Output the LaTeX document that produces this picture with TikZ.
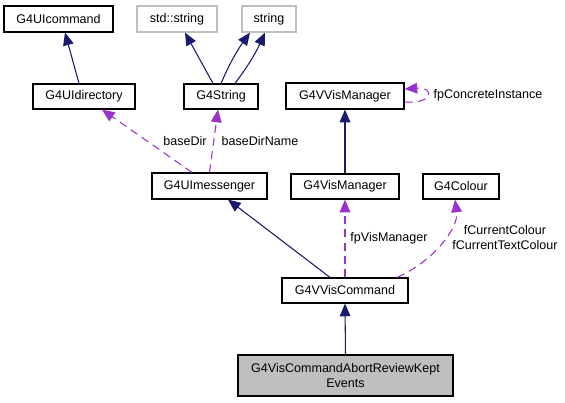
\documentclass[tikz,border=0pt]{standalone}
\usepackage{fontspec}
\setmainfont{Liberation Sans}
\usetikzlibrary{arrows.meta,calc}
\definecolor{edgeblue}{HTML}{191970}
\definecolor{edgepurple}{HTML}{9A32CD}
\definecolor{boxgray}{HTML}{BFBFBF}

\begin{document}
\begin{tikzpicture}[x=.75pt,y=-.75pt,
  cls/.style={draw=black,line width=.9pt,inner sep=0pt,font=\fontsize{9.4}{11}\selectfont},
  ext/.style={cls,draw=boxgray},
  size/.style 2 args={minimum width=#1,minimum height=#2},
  inh/.style={edgeblue,line width=.8pt,-{Triangle[length=9.5pt,width=8pt]}},
  use/.style={edgepurple,line width=.8pt,dash pattern=on 6pt off 4pt,-{Triangle[length=9.5pt,width=8pt]}},
  lbl/.style={font=\fontsize{9.4}{11}\selectfont,inner sep=0pt,align=center}]
\useasboundingbox (0,0) rectangle (565,403);
% classes
\node[cls,size={81.75pt}{19.5pt}] (cmd) at (58.5,19) {G4UIcommand};
\node[ext,size={60pt}{19.5pt}] (stds) at (177,19) {std::string};
\node[ext,size={40.5pt}{19.5pt}] (str) at (269,19) {string};
\node[cls,size={76.5pt}{18.75pt}] (dir) at (84,96.5) {G4UIdirectory};
\node[cls,size={55.5pt}{18.75pt}] (g4s) at (221,96.5) {G4String};
\node[cls,size={88.5pt}{19.5pt}] (vvm) at (345,96) {G4VVisManager};
\node[cls,size={86.25pt}{19.5pt}] (msg) at (209.5,186) {G4UImessenger};
\node[cls,size={81pt}{18.75pt}] (vm) at (345,186.5) {G4VisManager};
\node[cls,size={57pt}{18.75pt}] (col) at (461,186.5) {G4Colour};
\node[cls,size={94.5pt}{18.75pt}] (vvc) at (345,290.5) {G4VVisCommand};
\node[cls,fill=boxgray,size={161.25pt}{30.75pt},align=center] (main) at (345.5,375.5) {G4VisCommandAbortReviewKept\\Events};
% inheritance
\draw[inh] ($(dir.north)+(-5,0)$) -- ($(cmd.south)+(6.5,0)$);
\draw[inh] ($(g4s.north)+(-8,0)$) -- ($(stds.south)+(8,0)$);
\draw[inh] ($(g4s.north)+(0,0)$) to[bend left=6] ($(str.south)+(-19,0)$);
\draw[inh] ($(g4s.north)+(14,0)$) to[bend right=6] ($(str.south)+(-4,0)$);
\draw[inh] (vm.north) -- (vvm.south);
\draw[inh] ($(vvc.north)+(-15,0)$) -- ($(msg.south)+(18.5,0)$);
\draw[inh] (main.north) -- (vvc.south);
% usage
\draw[use] ($(msg.north)+(-17.5,0)$) -- ($(dir.south)+(18,0)$);
\draw[use] (msg.north) -- ($(g4s.south)+(-3,0)$);
\draw[use] ($(vvm.east)+(0,6)$) .. controls ($(vvm.east)+(30,8)$) and ($(vvm.east)+(30,-9)$) .. ($(vvm.east)+(0,-7)$);
\draw[use] (vvc.north) -- (vm.south);
\draw[use] ($(vvc.north)+(52,0)$) .. controls ($(vvc.north)+(85,-14)$) and ($(col.south)+(-2,30)$) .. ($(col.south)+(-6,0)$);
% labels
\node[lbl] (l1) at (185,141) {baseDir};
\node[lbl] (l2) at (260,141) {baseDirName};
\node[lbl] (l3) at (488,95) {fpConcreteInstance};
\node[lbl] (l4) at (389,238) {fpVisManager};
\node[lbl] (l5) at (505,237.5) {fCurrentColour\\fCurrentTextColour};
\end{tikzpicture}
\end{document}
